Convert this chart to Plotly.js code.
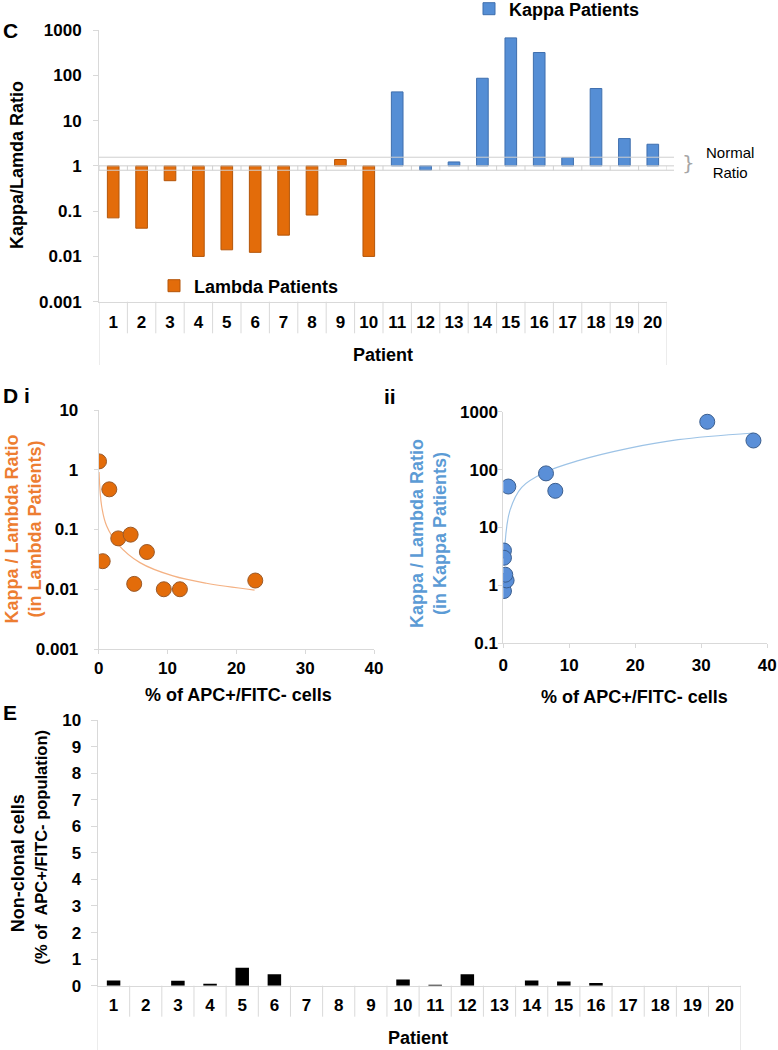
<!DOCTYPE html>
<html>
<head>
<meta charset="utf-8">
<script src="https://cdn.plot.ly/plotly-3.0.1.min.js"></script>
<style>html,body{margin:0;padding:0;background:#fff;}#chart{width:778px;height:1050px;}</style>
</head>
<body>
<div id="chart"></div>
<script>
// ---------- data ----------
const patientLabels = ["1","2","3","4","5","6","7","8","9","10","11","12","13","14","15","16","17","18","19","20"];
const lambdaPatients = [1,2,3,4,5,6,7,8,9,10];
const lambdaRatio = [0.071,0.042,0.47,0.010,0.014,0.0123,0.0295,0.082,1.38,0.010];
const kappaPatients = [11,12,13,14,15,16,17,18,19,20];
const kappaRatio = [43,0.80,1.22,86,670,318,1.53,51,4.0,3.0];
const normalRange = [0.8, 1.55];
const ratioTicks = [0.001,0.01,0.1,1,10,100,1000];
const ratioTickText = ["0.001","0.01","0.1","1","10","100","1000"];

// % of APC+/FITC- cells for each patient (same order as above)
const lambdaPct = [2.84,7.0,1.54,9.46,22.75,5.16,0.58,4.64,0.05,11.8];
const kappaPct = [7.88,0.1,0.5,6.47,30.9,37.9,0.3,0.76,0.1,0.1];
// trendlines
const lambdaTrendX = [0.05,0.43,1.16,2.84,5.99,10.8,15.65,22.65];
const lambdaTrendY = [0.92,0.245,0.114,0.056,0.0279,0.0167,0.0126,0.0097];
const kappaTrendX = [0.26,1.0,2.79,6.32,11.36,18.94,26.5,37.9];
const kappaTrendY = [5.2,19.6,49.5,90,143,233,329,429];

// panel E
const nonClonal = [0.2,0,0.19,0.07,0.68,0.43,0,0,0,0.23,0.04,0.43,0,0.2,0.16,0.1,0,0,0,0];

// ---------- styling ----------
const W = 778, H = 1050;
const FONT = "Liberation Sans, Arial, sans-serif";
const GRID = "#D9D9D9";
const ORANGE = "#E36C0A", ORANGE_LINE = "#B4560A";
const BLUE = "#558ED5", BLUE_LINE = "#3F6FAE";
const px = v => v / W;
const py = v => 1 - v / H;
const patientNums = patientLabels.map(Number);

const bold = (s, c) => ({family: FONT, size: s, color: c || "#000", weight: "bold"});

const traces = [
  {type: "bar", name: "Lambda Patients", x: lambdaPatients, y: lambdaRatio.map(v => v - 1), base: 1,
   width: 0.41, marker: {color: ORANGE, line: {color: ORANGE_LINE, width: 1}},
   xaxis: "x", yaxis: "y", legend: "legend", hoverinfo: "skip"},
  {type: "bar", name: "Kappa Patients", x: kappaPatients, y: kappaRatio.map(v => v - 1), base: 1,
   width: 0.41, marker: {color: BLUE, line: {color: BLUE_LINE, width: 1}},
   xaxis: "x", yaxis: "y", legend: "legend2", hoverinfo: "skip"},
  {type: "scatter", mode: "lines", x: lambdaTrendX, y: lambdaTrendY, line: {color: "#F4B183", width: 1.2, shape: "spline"},
   xaxis: "x4", yaxis: "y4", showlegend: false, hoverinfo: "skip"},
  {type: "scatter", mode: "markers", x: lambdaPct, y: lambdaRatio,
   marker: {size: 15, color: ORANGE, line: {color: "#9A5A2A", width: 1}},
   xaxis: "x4", yaxis: "y4", showlegend: false},
  {type: "scatter", mode: "lines", x: kappaTrendX, y: kappaTrendY, line: {color: "#9DC3E6", width: 1.2, shape: "spline"},
   xaxis: "x5", yaxis: "y5", showlegend: false, hoverinfo: "skip"},
  {type: "scatter", mode: "markers", x: kappaPct, y: kappaRatio,
   marker: {size: 15, color: "#5A8FD8", line: {color: "#3B5E8E", width: 1}},
   xaxis: "x5", yaxis: "y5", showlegend: false},
  {type: "bar", x: patientNums, y: nonClonal, width: 0.42, marker: {color: "#000"},
   xaxis: "x3", yaxis: "y3", showlegend: false, hoverinfo: "skip"}
];

const catAxis = (dom, anchor, standoff) => ({
  domain: dom, anchor: anchor, range: [0.5, 20.5], tickmode: "array",
  tickvals: patientNums, ticktext: patientLabels, showline: true, linecolor: GRID, linewidth: 1,
  ticks: "", showgrid: false, zeroline: false, tickfont: bold(17), ticklabelstandoff: standoff, fixedrange: true
});

const layout = {
  width: W, height: H, margin: {l: 0, r: 0, t: 0, b: 0, autoexpand: false},
  paper_bgcolor: "#fff", plot_bgcolor: "rgba(0,0,0,0)",
  barmode: "overlay", font: {family: FONT, color: "#000"},
  showlegend: true,
  xaxis: catAxis([px(99), px(667)], "y", 5),
  yaxis: {domain: [py(301.7), py(30)], anchor: "x", type: "log", range: [-3, 3],
    tickmode: "array", tickvals: ratioTicks, ticktext: ratioTickText,
    showline: true, linecolor: GRID, ticks: "outside", ticklen: 5, tickcolor: GRID,
    showgrid: false, zeroline: false, tickfont: bold(17), ticklabelstandoff: 8},
  xaxis3: catAxis([px(97.5), px(740.7)], "y3", 4),
  yaxis3: {domain: [py(985.7), py(720)], anchor: "x3", range: [0, 10], dtick: 1,
    showline: true, linecolor: GRID, ticks: "outside", ticklen: 6, tickcolor: GRID,
    showgrid: false, zeroline: false, tickfont: bold(17), ticklabelstandoff: 6},
  xaxis4: {domain: [px(98.7), px(374)], anchor: "y4", range: [0, 40], dtick: 10,
    showline: true, linecolor: GRID, ticks: "outside", ticklen: 4, tickcolor: GRID,
    showgrid: false, zeroline: false, tickfont: bold(17), ticklabelstandoff: 0},
  yaxis4: {domain: [py(649), py(410)], anchor: "x4", type: "log", range: [-3, 1],
    tickmode: "array", tickvals: ratioTicks, ticktext: ratioTickText,
    showline: true, linecolor: GRID, ticks: "outside", ticklen: 4, tickcolor: GRID,
    showgrid: false, zeroline: false, tickfont: bold(17), ticklabelstandoff: 12},
  xaxis5: {domain: [px(503.3), px(767.3)], anchor: "y5", range: [0, 40], dtick: 10,
    showline: true, linecolor: GRID, ticks: "outside", ticklen: 4, tickcolor: GRID,
    showgrid: false, zeroline: false, tickfont: bold(17), ticklabelstandoff: 2},
  yaxis5: {domain: [py(643.3), py(411.7)], anchor: "x5", type: "log", range: [-1, 3],
    tickmode: "array", tickvals: ratioTicks, ticktext: ratioTickText,
    showline: true, linecolor: GRID, ticks: "outside", ticklen: 4, tickcolor: GRID,
    showgrid: false, zeroline: false, tickfont: bold(17), ticklabelstandoff: -3},
  legend: {x: px(154), y: py(286), xanchor: "left", yanchor: "middle", bgcolor: "rgba(0,0,0,0)",
    font: bold(18), itemwidth: 30},
  legend2: {x: px(469), y: py(9), xanchor: "left", yanchor: "middle", bgcolor: "rgba(0,0,0,0)",
    font: bold(18), itemwidth: 30},
  shapes: [],
  annotations: []
};

// normal-ratio guide lines and the axis crossing at 1
[normalRange[0], 1, normalRange[1]].forEach(v => layout.shapes.push({
  type: "line", xref: "paper", yref: "y", x0: px(99), x1: px(674), y0: v, y1: v,
  line: {color: "#CFCFCF", width: 1}
}));
// small category ticks on the crossing line and table grid under panels C and E
for (let i = 0; i <= patientNums.length; i++) {
  const b = i + 0.5;
  const edge = (i === 0 || i === patientNums.length);
  layout.shapes.push({type: "line", xref: "x", yref: "y", x0: b, x1: b, y0: 1, y1: normalRange[0],
    line: {color: "#CFCFCF", width: 1}});
  layout.shapes.push({type: "line", xref: "x", yref: "paper", x0: b, x1: b, y0: py(301.7),
    y1: py(edge ? 365 : 333.3), line: {color: GRID, width: 1}});
  layout.shapes.push({type: "line", xref: "x3", yref: "paper", x0: b, x1: b, y0: py(985.7),
    y1: py(edge ? 1050 : 1016.7), line: {color: GRID, width: 1}});
}

const ann = (text, x, y, font, extra) => Object.assign({
  text: text, xref: "paper", yref: "paper", x: px(x), y: py(y), showarrow: false, font: font,
  xanchor: "center", yanchor: "middle"
}, extra || {});

layout.annotations.push(
  ann("C", 1, 30, bold(21), {xanchor: "left"}),
  ann("Kappa/Lamda Ratio", 17, 165, bold(18), {textangle: -90}),
  ann("Patient", 383, 355, bold(18)),
  ann("}", 688, 163, {family: "DejaVu Sans", size: 20, color: "#A6A6A6"}, {}),
  ann("Normal<br>Ratio", 730, 163, {family: FONT, size: 15, color: "#000"}),
  ann("D i", 1, 395, bold(21), {xanchor: "left"}),
  ann("ii", 382, 396, bold(21), {xanchor: "left"}),
  ann("Kappa / Lambda Ratio<br>(in Lambda Patients)", 22.5, 529, bold(18, "#ED7D31"), {textangle: -90}),
  ann("Kappa / Lambda Ratio<br>(in Kappa Patients)", 428, 534, bold(18, "#5B9BD5"), {textangle: -90}),
  ann("% of APC+/FITC- cells", 238, 695, bold(18)),
  ann("% of APC+/FITC- cells", 634, 697, bold(18)),
  ann("E", 1, 712, bold(21), {xanchor: "left"}),
  ann("Non-clonal cells", 18.3, 863, bold(18), {textangle: -90}),
  ann("(% of&nbsp; APC+/FITC- population)", 40, 847.5, bold(16.5), {textangle: -90}),
  ann("Patient", 418, 1038, bold(18))
);

Plotly.newPlot("chart", traces, layout, {staticPlot: true, displayModeBar: false});
</script>
</body>
</html>
